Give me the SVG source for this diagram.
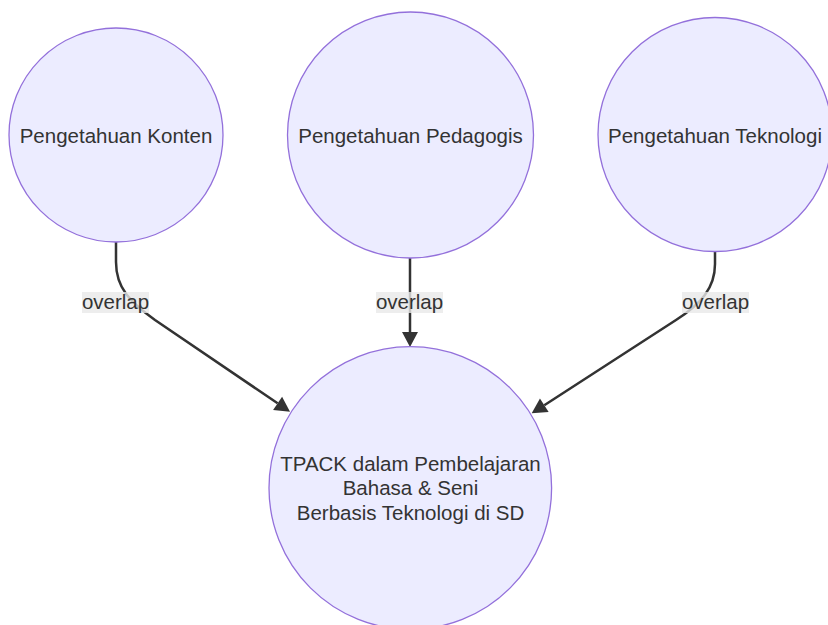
<svg xmlns="http://www.w3.org/2000/svg" width="828" height="625" viewBox="0 0 828 625">
  <style>
    .node circle { fill: #ECECFF; stroke: #9370DB; stroke-width: 1.3; }
    .node text, .label text { font-family: "Liberation Sans", Arial, sans-serif; font-size: 20.5px; fill: #333333; text-anchor: middle; }
    .edge { fill: none; stroke: #333333; stroke-width: 2.5; }
    .label rect { fill: #E8E8E8; fill-opacity: 0.8; }
  </style>
  <defs>
    <marker id="arrow" markerUnits="userSpaceOnUse" markerWidth="15" markerHeight="16" viewBox="0 0 15 16" refX="0" refY="8" orient="auto" overflow="visible">
      <path d="M0,0 L15,8 L0,16 z" fill="#333333"/>
    </marker>
  </defs>
  <rect width="828" height="625" fill="#FFFFFF"/>

  <g id="connectors">
    <path class="edge" d="M116,242 L116,262 C116,288 130,302 155,320 L277.6,403.3" marker-end="url(#arrow)"/>
    <path class="edge" d="M410,258 L410,332" marker-end="url(#arrow)"/>
    <path class="edge" d="M715,252 L715,264 C715,288 701,304 676,320 L544.3,405.2" marker-end="url(#arrow)"/>
    <g class="label">
      <rect x="82" y="292" width="67" height="21"/>
      <text x="115.5" y="309.3">overlap</text>
    </g>
    <g class="label">
      <rect x="376" y="292" width="67" height="21"/>
      <text x="409.5" y="309.3">overlap</text>
    </g>
    <g class="label">
      <rect x="682" y="292" width="67" height="21"/>
      <text x="715.5" y="309.3">overlap</text>
    </g>
  </g>

  <g id="konten" class="node">
    <circle cx="116" cy="135" r="107"/>
    <text x="116" y="142.5">Pengetahuan Konten</text>
  </g>
  <g id="pedagogis" class="node">
    <circle cx="410.5" cy="135" r="123"/>
    <text x="410.5" y="142.5">Pengetahuan Pedagogis</text>
  </g>
  <g id="teknologi" class="node">
    <circle cx="715" cy="134.5" r="117"/>
    <text x="715" y="142.5">Pengetahuan Teknologi</text>
  </g>
  <g id="tpack" class="node">
    <circle cx="410.3" cy="488" r="141.3"/>
    <text x="410.5" y="470.5">TPACK dalam Pembelajaran</text>
    <text x="410.5" y="495">Bahasa &amp; Seni</text>
    <text x="410.5" y="519.5">Berbasis Teknologi di SD</text>
  </g>
</svg>
